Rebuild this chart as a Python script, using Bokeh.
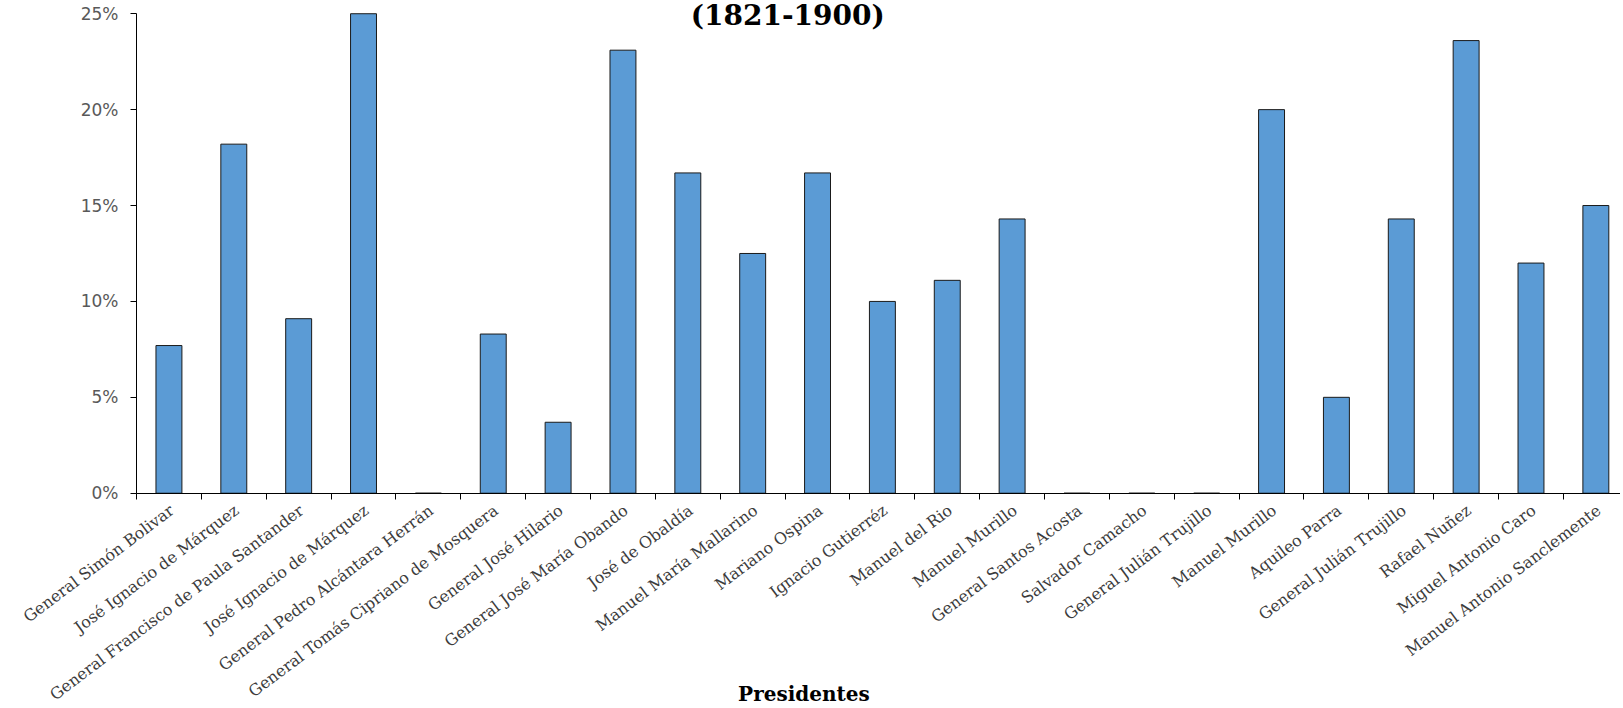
import math
from bokeh.plotting import figure
from bokeh.models import (ColumnDataSource, FixedTicker, PrintfTickFormatter,
                          LabelSet, Label, Range1d)
from bokeh.core.properties import value
from bokeh.embed import file_html
from bokeh.resources import INLINE

presidentes = [
    "General Simón Bolivar",
    "José Ignacio de Márquez",
    "General Francisco de Paula Santander",
    "José Ignacio de Márquez",
    "General Pedro Alcántara Herrán",
    "General Tomás Cipriano de Mosquera",
    "General José Hilario",
    "General José María Obando",
    "José de Obaldía",
    "Manuel María Mallarino",
    "Mariano Ospina",
    "Ignacio Gutierréz",
    "Manuel del Rio",
    "Manuel Murillo",
    "General Santos Acosta",
    "Salvador Camacho",
    "General Julián Trujillo",
    "Manuel Murillo",
    "Aquileo Parra",
    "General Julián Trujillo",
    "Rafael Nuñez",
    "Miguel Antonio Caro",
    "Manuel Antonio Sanclemente",
]
porcentaje = [7.7, 18.2, 9.1, 25.0, 0.0, 8.3, 3.7, 23.1, 16.7, 12.5, 16.7, 10.0,
              11.1, 14.3, 0.0, 0.0, 0.0, 20.0, 5.0, 14.3, 23.6, 12.0, 15.0]
y_ticks = [0, 5, 10, 15, 20, 25]
titulo = "(1821-1900)"
eje_x = "Presidentes"

pos = list(range(1, len(presidentes) + 1))
bounds = [i + 0.5 for i in range(0, len(presidentes) + 1)]

src = ColumnDataSource(dict(x=pos, top=porcentaje, name=presidentes,
                            y=[0] * len(pos)))

p = figure(width=1620, height=706, output_backend="svg", toolbar_location=None,
           x_range=Range1d(-1.597, 23.38), y_range=Range1d(-11.12, 25.69),
           min_border_left=0, min_border_top=0, min_border_bottom=0,
           min_border_right=0)
p.outline_line_color = None
p.xgrid.grid_line_color = None
p.ygrid.grid_line_color = None

p.vbar(x="x", top="top", width=0.4, source=src, fill_color="#5B9BD5",
       line_color="#1a1a1a", line_width=1)

# x axis drawn at y = 0 inside the frame
p.xaxis.fixed_location = 0
p.xaxis.bounds = (0.5, 24)
p.xaxis.ticker = FixedTicker(ticks=pos, minor_ticks=bounds)
p.xaxis.major_label_overrides = {i: "" for i in pos}
p.xaxis.major_tick_line_color = None
p.xaxis.minor_tick_out = 6
p.xaxis.minor_tick_in = 0
p.xaxis.minor_tick_line_color = "#000000"
p.xaxis.axis_line_color = "#000000"

# y axis drawn at the first category boundary
p.yaxis.fixed_location = 0.5
p.yaxis.bounds = (0, 25)
p.yaxis.ticker = FixedTicker(ticks=y_ticks)
p.yaxis.formatter = PrintfTickFormatter(format="%d%%")
p.yaxis.major_tick_out = 6
p.yaxis.major_tick_in = 0
p.yaxis.minor_tick_line_color = None
p.yaxis.axis_line_color = "#000000"
p.yaxis.major_label_text_font = "DejaVu Sans"
p.yaxis.major_label_text_font_size = "17px"
p.yaxis.major_label_text_color = "#595959"
p.yaxis.major_label_standoff = 12

labels = LabelSet(x="x", y="y", text="name", source=src, angle=math.radians(37),
                  text_align="right", text_baseline="middle",
                  x_offset=3, y_offset=-15,
                  text_font=value("DejaVu Serif"), text_font_size="16px",
                  text_color="#3c3c3c")
p.add_layout(labels)

p.add_layout(Label(x=10.54, y=25, y_offset=-2, text=titulo, text_align="center",
                   text_baseline="alphabetic", text_font="DejaVu Serif",
                   text_font_style="bold", text_font_size="28px",
                   text_color="#000000"))
p.add_layout(Label(x=10.79, y=0, y_offset=-201, text=eje_x, text_align="center",
                   text_baseline="alphabetic", text_font="DejaVu Serif",
                   text_font_style="bold", text_font_size="20px",
                   text_color="#000000"))

open("out.html", "w").write(file_html(p, INLINE))
